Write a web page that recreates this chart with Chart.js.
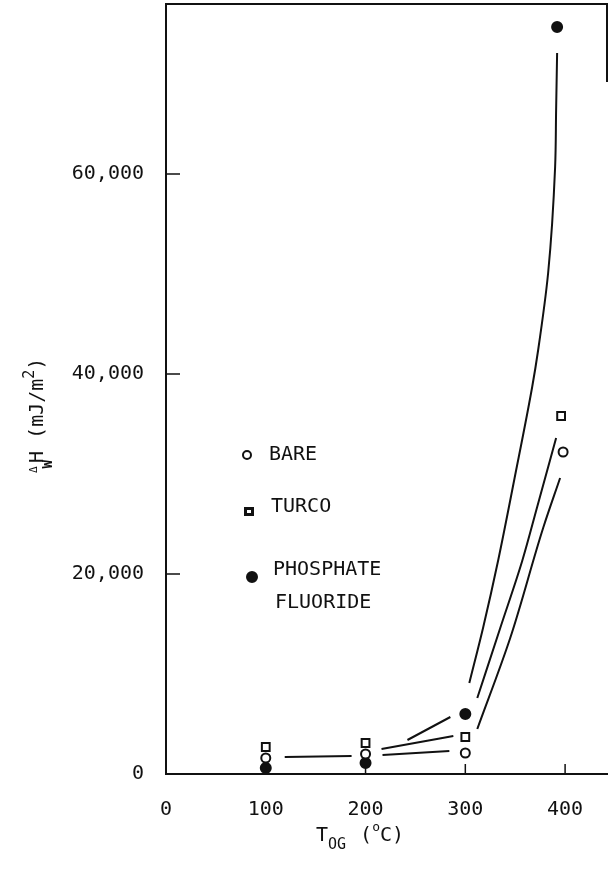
<!DOCTYPE html>
<html>
<head>
<meta charset="utf-8">
<style>
  html, body { margin: 0; padding: 0; background: #fff; }
  #wrap { width: 608px; height: 881px; }
</style>
<script src="https://cdn.jsdelivr.net/npm/chart.js@4/dist/chart.umd.min.js"></script>
</head>
<body>
<div id="wrap"><canvas id="chart" width="608" height="881"></canvas></div>
<script>
// Measured heat of wetting vs. outgassing temperature, three surface treatments
const xTicks = [0, 100, 200, 300, 400];
const yTicks = [0, 20000, 40000, 60000];

const bareT  = [100, 200, 300, 398];
const bareH  = [1600, 2000, 2100, 32200];
const turcoT = [100, 200, 300, 396];
const turcoH = [2700, 3100, 3700, 35800];
const phosT  = [100, 200, 300, 392];
const phosH  = [600, 1100, 6000, 74700];

// Hand-faired trend curves (listed from low to high H)
const lowT = [119, 186];
const lowH = [1700, 1800];
const bareMidT = [217, 284];
const bareMidH = [1900, 2300];
const turcoMidT = [216, 288];
const turcoMidH = [2500, 3800];
const phosMidT = [242, 285];
const phosMidH = [3400, 5700];
const bareHighT = [312, 345, 378, 395];
const bareHighH = [4500, 13600, 24600, 29600];
const turcoHighT = [312, 335, 357, 372, 391];
const turcoHighH = [7600, 14600, 21300, 26700, 33600];
const phosHighT = [304, 318, 333, 349, 367, 373, 383, 390, 391, 392];
const phosHighH = [9100, 14700, 21400, 29400, 38700, 42400, 50100, 60700, 66400, 72100];

const INK = '#111';
const FONT = "'DejaVu Sans Mono', monospace";

const pts = (xs, ys) => xs.map((x, i) => ({ x: x, y: ys[i] }));

const markerSet = (label, xs, ys, style, radius, fill) => ({
  label: label,
  data: pts(xs, ys),
  showLine: false,
  pointStyle: style,
  pointRadius: radius,
  pointBorderWidth: 2,
  pointBorderColor: INK,
  pointBackgroundColor: fill
});

// curves rise steeply, so interpolate along the H axis
const curveSet = (xs, ys) => ({
  label: '',
  data: pts(xs, ys),
  indexAxis: 'y',
  showLine: true,
  borderColor: INK,
  borderWidth: 2,
  pointRadius: 0,
  cubicInterpolationMode: 'monotone',
  fill: false
});

Chart.defaults.font.family = FONT;
Chart.defaults.font.size = 20;
Chart.defaults.color = INK;

const legendItems = [
  { text: ['BARE'], style: 'circle', fill: '#fff', r: 4, mx: 247, my: 455, tx: 269, ty: 455 },
  { text: ['TURCO'], style: 'square', fill: '#fff', r: 4, mx: 249, my: 512, tx: 271, ty: 507 },
  { text: ['PHOSPHATE', 'FLUORIDE'], style: 'dot', fill: INK, r: 5, mx: 252, my: 577, tx: 273, ty: 570 }
];

const decorations = {
  id: 'decorations',
  afterDraw(chart) {
    const { ctx, chartArea: a } = chart;
    const xs = chart.scales.x, ys = chart.scales.y;
    ctx.save();
    ctx.strokeStyle = INK;
    ctx.fillStyle = INK;

    // frame top and the short stub of the right edge
    ctx.lineWidth = 2;
    ctx.beginPath();
    ctx.moveTo(a.left - 1, a.top);
    ctx.lineTo(a.right + 1, a.top);
    ctx.moveTo(a.right, a.top);
    ctx.lineTo(a.right, a.top + 78);
    ctx.stroke();

    // inward tick marks
    ctx.lineWidth = 1.5;
    ctx.beginPath();
    xs.ticks.forEach(t => {
      if (t.value === 0) return;
      const px = xs.getPixelForValue(t.value);
      ctx.moveTo(px, a.bottom);
      ctx.lineTo(px, a.bottom - 10);
    });
    ys.ticks.forEach(t => {
      if (t.value === 0) return;
      const py = ys.getPixelForValue(t.value);
      ctx.moveTo(a.left, py);
      ctx.lineTo(a.left + 14, py);
    });
    ctx.stroke();

    // key
    ctx.font = '20px ' + FONT;
    ctx.textAlign = 'left';
    ctx.textBaseline = 'middle';
    legendItems.forEach(it => {
      ctx.lineWidth = 2;
      ctx.beginPath();
      if (it.style === 'square') {
        ctx.fillStyle = INK;
        ctx.fillRect(it.mx - 5, it.my - 5, 10, 9);
        ctx.fillStyle = '#fff';
        ctx.fillRect(it.mx - 2, it.my - 2, 4, 3);
      } else {
        ctx.arc(it.mx, it.my, it.r, 0, Math.PI * 2);
        ctx.fillStyle = it.fill;
        ctx.fill();
        ctx.stroke();
      }
      ctx.fillStyle = INK;
      it.text.forEach((line, i) => ctx.fillText(line, it.tx + i * 2, it.ty + i * 33));
    });

    // x-axis title: T_OG (°C)
    ctx.textBaseline = 'alphabetic';
    let x = 316;
    const base = 841;
    const seg = (txt, size, dy, weight) => {
      ctx.font = (weight || '') + ' ' + size + 'px ' + FONT;
      ctx.fillText(txt, x, base + dy);
      x += ctx.measureText(txt).width;
    };
    seg('T', 20, 0);
    seg('OG', 15, 8);
    x += 14;
    seg('(', 20, 0);
    seg('o', 13, -10);
    seg('C', 20, 0);
    seg(')', 20, 0);

    // y-axis title: ΔwH (mJ/m²), rotated
    ctx.save();
    ctx.translate(43, 473);
    ctx.rotate(-Math.PI / 2);
    let u = 0;
    const rseg = (txt, size, dv, weight) => {
      ctx.font = (weight || '') + ' ' + size + 'px ' + FONT;
      ctx.fillText(txt, u, dv);
      u += ctx.measureText(txt).width;
    };
    rseg('\u0394', 11, -6);
    u -= 2;
    rseg('W', 14, 9, 'bold');
    u -= 3;
    rseg('H', 20, 0);
    u += 12;
    rseg('(mJ/m', 20, 0);
    rseg('2', 15, -9);
    rseg(')', 20, 0);
    ctx.restore();

    ctx.restore();
  }
};

new Chart(document.getElementById('chart'), {
  type: 'scatter',
  data: {
    datasets: [
      curveSet(lowT, lowH),
      curveSet(bareMidT, bareMidH),
      curveSet(turcoMidT, turcoMidH),
      curveSet(phosMidT, phosMidH),
      curveSet(bareHighT, bareHighH),
      curveSet(turcoHighT, turcoHighH),
      curveSet(phosHighT, phosHighH),
      markerSet('BARE', bareT, bareH, 'circle', 4.5, '#fff'),
      markerSet('TURCO', turcoT, turcoH, 'rect', 5.5, '#fff'),
      markerSet('PHOSPHATE FLUORIDE', phosT, phosH, 'circle', 5, INK)
    ]
  },
  options: {
    responsive: false,
    animation: false,
    devicePixelRatio: 1,
    layout: { autoPadding: false, padding: { top: 4, right: 1, left: 0, bottom: 0 } },
    plugins: {
      legend: { display: false },
      tooltip: { enabled: false },
      title: { display: false }
    },
    scales: {
      x: {
        type: 'linear',
        min: 0,
        max: 442,
        afterBuildTicks: s => { s.ticks = xTicks.map(v => ({ value: v })); },
        afterFit: s => { s.height = 107; s.paddingLeft = 0; s.paddingRight = 0; },
        grid: { display: false, drawTicks: false },
        border: { display: true, color: INK, width: 2 },
        ticks: {
          padding: 24,
          maxRotation: 0,
          color: INK,
          font: { size: 20, family: FONT },
          callback: v => String(v)
        }
      },
      y: {
        type: 'linear',
        min: 0,
        max: 77000,
        afterBuildTicks: s => { s.ticks = yTicks.map(v => ({ value: v })); },
        afterFit: s => { s.width = 166; s.paddingTop = 0; s.paddingBottom = 0; },
        grid: { display: false, drawTicks: false },
        border: { display: true, color: INK, width: 2 },
        ticks: {
          padding: 22,
          color: INK,
          font: { size: 20, family: FONT },
          callback: v => v.toLocaleString('en-US')
        }
      }
    }
  },
  plugins: [decorations]
});
</script>
</body>
</html>
